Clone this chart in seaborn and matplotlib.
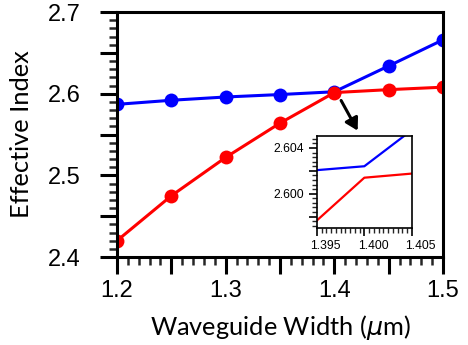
import matplotlib
matplotlib.use("Agg")
import matplotlib.pyplot as plt
import matplotlib.transforms as mtransforms
import seaborn as sns
import pandas as pd
from matplotlib.ticker import MultipleLocator, FuncFormatter

# ---- data ----
widths = [1.20, 1.25, 1.30, 1.35, 1.40, 1.45, 1.50]
mode_blue = [2.587, 2.592, 2.596, 2.599, 2.6024, 2.634, 2.666]
mode_red = [2.420, 2.475, 2.522, 2.564, 2.6014, 2.605, 2.608]
series_names = ["Mode A", "Mode B"]
colors = ["#0000ff", "#ff0000"]
x_ticks = [1.2, 1.3, 1.4, 1.5]
y_ticks = [2.4, 2.5, 2.6, 2.7]
inset_xticks = [1.395, 1.400, 1.405]
inset_yticks = [2.600, 2.604]

df = pd.DataFrame({
    "width": widths * 2,
    "neff": mode_blue + mode_red,
    "mode": [series_names[0]] * len(widths) + [series_names[1]] * len(widths),
})

sns.set_theme(style="white")
plt.rcParams["font.family"] = ["Liberation Sans", "DejaVu Sans"]
plt.rcParams["axes.labelcolor"] = "black"
plt.rcParams["text.color"] = "black"

fig = plt.figure(figsize=(4.68, 3.45), dpi=100)
ax = fig.add_axes([0.25, 0.255, 0.6966, 0.71])

sns.lineplot(data=df, x="width", y="neff", hue="mode", palette=colors,
             marker="o", markersize=10, markeredgewidth=0, linewidth=2.2,
             ax=ax, legend=False)

ax.set_xlim(1.2, 1.5)
ax.set_ylim(2.4, 2.7)
for s in ax.spines.values():
    s.set_linewidth(2.2)
    s.set_color("black")

def lab_fmt(vals, fmt):
    def f(v, pos):
        for t in vals:
            if abs(v - t) < 1e-6:
                return fmt.format(t)
        return ""
    return FuncFormatter(f)

ax.xaxis.set_major_locator(MultipleLocator(0.05))
ax.xaxis.set_minor_locator(MultipleLocator(0.01))
ax.yaxis.set_major_locator(MultipleLocator(0.05))
ax.yaxis.set_minor_locator(MultipleLocator(0.01))
ax.xaxis.set_major_formatter(lab_fmt(x_ticks, "{:.1f}"))
ax.yaxis.set_major_formatter(lab_fmt(y_ticks, "{:.1f}"))
ax.tick_params(which="major", direction="out", length=12, width=2.2,
               labelsize=17, colors="black", bottom=True, left=True, pad=4.5)
ax.tick_params(which="minor", direction="out", length=6, width=1.8,
               bottom=True, left=True)
ax.tick_params(axis="y", which="major", pad=14)

ax.set_xlabel("Waveguide Width ($\\mu$m)", family=["Lato", "DejaVu Sans"],
              fontsize=18.3, labelpad=8, color="black")
ax.set_ylabel("Effective Index", family=["Lato", "DejaVu Sans"],
              fontsize=18.3, labelpad=11, color="black")

# arrow
ax.annotate("", xy=(1.4227, 2.5518), xytext=(1.405, 2.5947),
            arrowprops=dict(arrowstyle="-|>,head_length=0.6,head_width=0.35",
                            color="black", lw=2.2))

# inset
axi = fig.add_axes([0.677, 0.339, 0.203, 0.267])
sns.lineplot(data=df, x="width", y="neff", hue="mode", palette=colors,
             linewidth=1.6, ax=axi, legend=False)
axi.set_xlim(1.395, 1.405)
axi.set_ylim(2.597, 2.60505)
for s in axi.spines.values():
    s.set_linewidth(1.2)
    s.set_color("black")
axi.xaxis.set_major_locator(MultipleLocator(0.005))
axi.xaxis.set_minor_locator(MultipleLocator(0.0005))
axi.yaxis.set_major_locator(MultipleLocator(0.002))
axi.yaxis.set_minor_locator(MultipleLocator(0.0004))
axi.xaxis.set_major_formatter(lab_fmt(inset_xticks, "{:.3f}"))
axi.yaxis.set_major_formatter(lab_fmt(inset_yticks, "{:.3f}"))
axi.tick_params(which="major", direction="out", length=6, width=1.2,
                labelsize=8.7, colors="black", bottom=True, left=True, pad=2.5)
axi.tick_params(which="minor", direction="out", length=3.5, width=1.0,
                bottom=True, left=True)
axi.tick_params(axis="y", which="major", pad=3)
axi.set_xlabel("")
axi.set_ylabel("")

# inset x labels sit slightly right of their ticks in the reference
shift = mtransforms.ScaledTranslation(9 / 100, 0, fig.dpi_scale_trans)
for tick in axi.xaxis.get_major_ticks():
    tick.label1.set_transform(tick.label1.get_transform() + shift)

fig.savefig("out.png", dpi=100)
